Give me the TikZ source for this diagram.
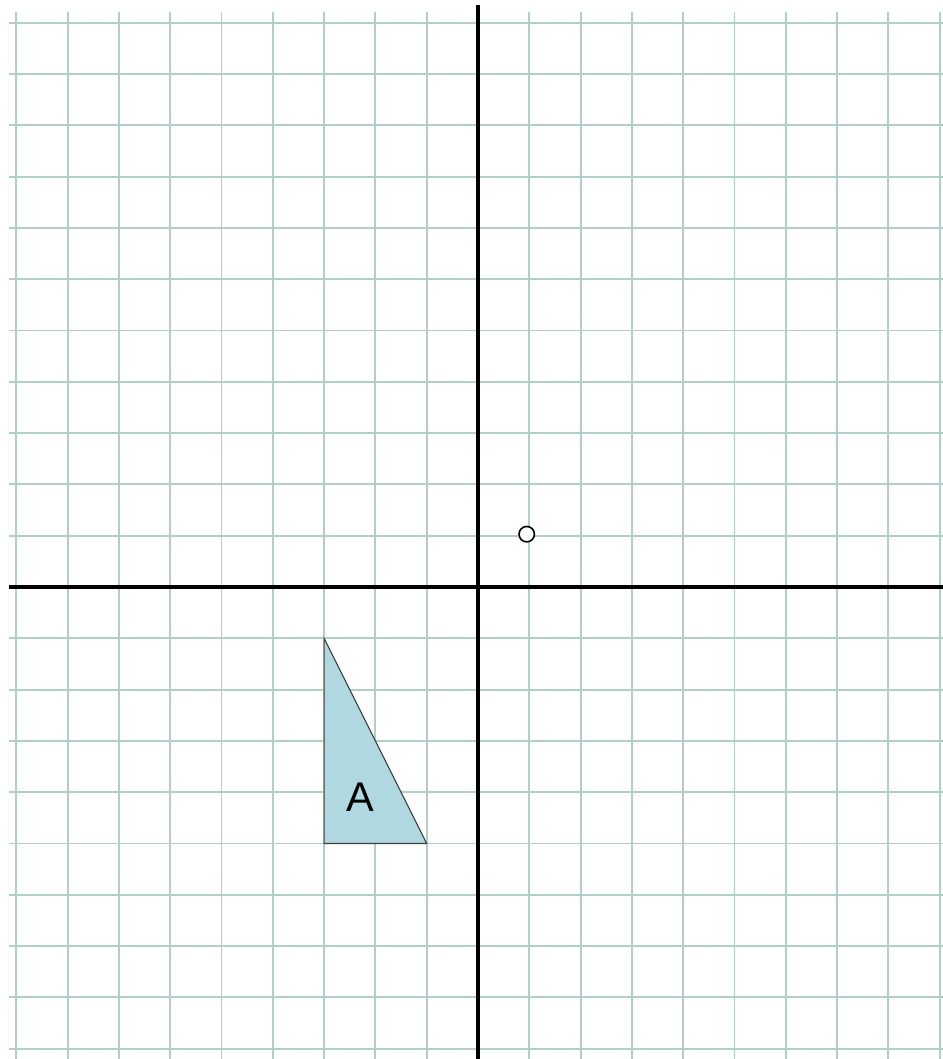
\documentclass[tikz,border=0pt]{standalone}
\usepackage{fontspec}
\setsansfont{Liberation Sans}
\definecolor{gridcol}{RGB}{178,206,200}
\definecolor{shapefill}{RGB}{176,216,224}
\tikzset{
  gridline/.style={gridcol,line width=1.1pt},
  axisline/.style={black,line width=2.2pt},
  dot/.style={draw,circle,fill=white,line width=0.9pt,minimum size=0.3cm,inner sep=0pt},
}
\begin{document}
\begin{tikzpicture}

\def\L{-9.15}
\def\R{9.06}
\def\B{-9.2}
\def\T{11.2}

\useasboundingbox[fill=white] (-9.318,-9.201) rectangle (9.064,11.443);

% Grid
\foreach \x in {-9,...,9}{
    \draw[gridline] (\x,\B) -- (\x,\T);
}
\foreach \y in {-9,...,11}{
    \draw[gridline] (\L,\y) -- (\R,\y);
}

% Axes
\draw[axisline] (0,\B) -- (0,11.35);
\draw[axisline] (\L,0) -- (\R,0);

% Shape A
\filldraw[fill=shapefill,draw=black!75,line width=0.6pt] (-3,-1) -- (-3,-5) -- (-1,-5) -- cycle;
\node[font=\sffamily\fontsize{23}{23}\selectfont] (labelA) at (-2.3,-4.1) {A};

% Centre point
\node[dot] (centre) at (0.95,1.03) {};

\end{tikzpicture}
\end{document}
